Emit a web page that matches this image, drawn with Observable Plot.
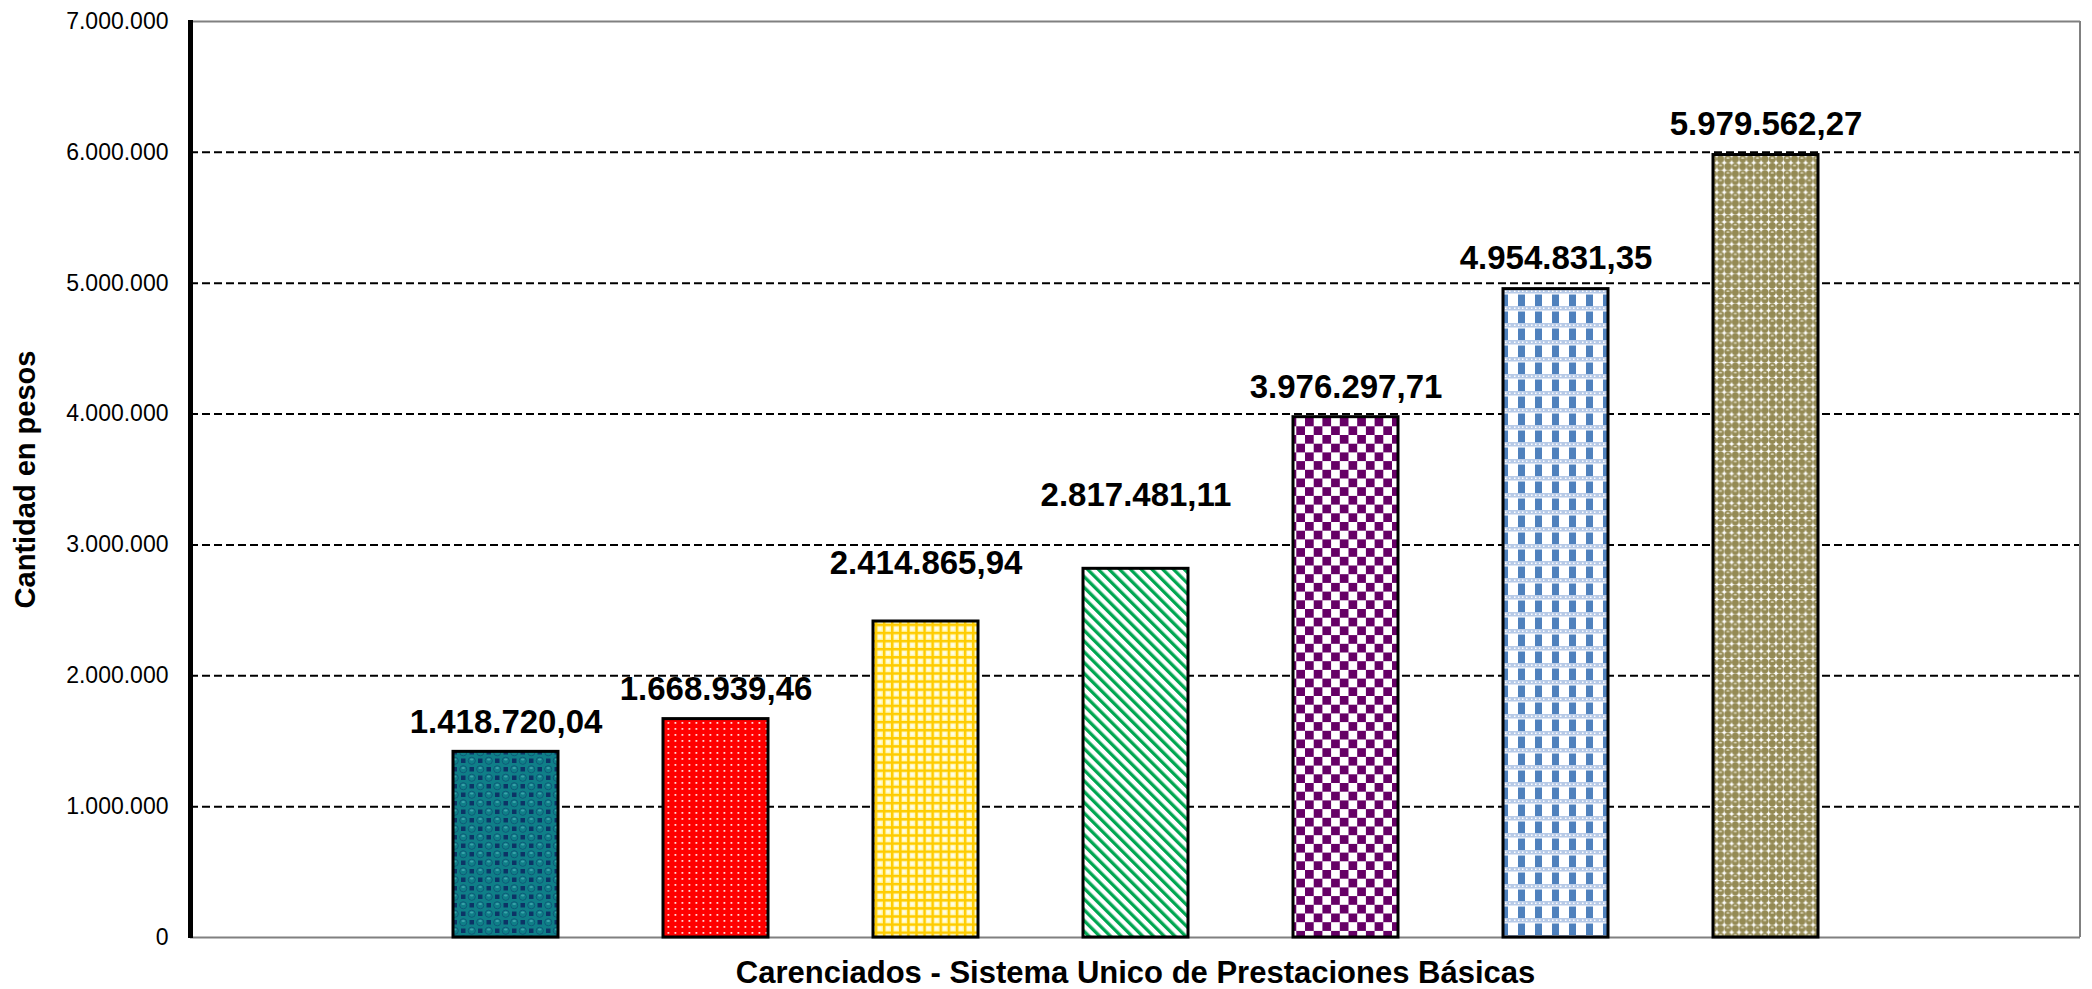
<!DOCTYPE html>
<html>
<head>
<meta charset="utf-8">
<script src="https://cdn.jsdelivr.net/npm/d3@7"></script>
<script src="https://cdn.jsdelivr.net/npm/@observablehq/plot@0.6"></script>
<style>
html, body { margin: 0; padding: 0; background: #fff; }
svg { display: block; }
</style>
</head>
<body>
<div id="chart"></div>
<script>
// ---- data ----
const series = ["Serie 1", "Serie 2", "Serie 3", "Serie 4", "Serie 5", "Serie 6", "Serie 7"];
const values = [1418720.04, 1668939.46, 2414865.94, 2817481.11, 3976297.71, 4954831.35, 5979562.27];
// where each value label sits (in pesos)
const labelAt = [1645000, 1892000, 2859000, 3378000, 4202000, 5191000, 6215000];
const yTicks = [0, 1000000, 2000000, 3000000, 4000000, 5000000, 6000000, 7000000];
const gridTicks = [1000000, 2000000, 3000000, 4000000, 5000000, 6000000];
const xTitle = "Carenciados - Sistema Unico de Prestaciones Básicas";
const yTitle = "Cantidad en pesos";

// ---- styles ----
const fills = ["url(#p1)", "url(#p2)", "url(#p3)", "url(#p4)", "url(#p5)", "url(#p6)", "url(#p7)"];

const data = series.map((s, i) => ({name: s, value: values[i], label: labelAt[i], fill: fills[i]}));

const loc = d3.formatLocale({decimal: ",", thousands: ".", grouping: [3], currency: ["$", ""]});
const fmtInt = loc.format(",d");
const fmtVal = loc.format(",.2f");

const FONT = "'Liberation Sans', Arial, Helvetica, sans-serif";

const defsMark = () => {
  const g = d3.create("svg:g");
  g.html(`
  <defs>
    <pattern id="p1" width="17" height="17" patternUnits="userSpaceOnUse">
      <rect width="17" height="17" fill="#0f7f88"/>
      <rect x="10.5" y="2" width="4.5" height="4.5" fill="#0c3466"/>
      <rect x="2" y="10.5" width="4.5" height="4.5" fill="#0c3466"/>
      <circle cx="4.25" cy="4.25" r="3.6" fill="none" stroke="#0d5a78" stroke-width="1"/>
      <circle cx="12.75" cy="12.75" r="3.6" fill="none" stroke="#0d5a78" stroke-width="1"/>
      <ellipse cx="4.25" cy="3" rx="1.8" ry="1" fill="#3aa3aa"/>
      <ellipse cx="12.75" cy="11.5" rx="1.8" ry="1" fill="#3aa3aa"/>
    </pattern>
    <pattern id="p2" width="7" height="6" patternUnits="userSpaceOnUse">
      <rect width="7" height="6" fill="#ff0000"/>
      <rect x="2.5" y="2" width="1.8" height="1.8" fill="#ffd6d6"/>
    </pattern>
    <pattern id="p3" width="8.1" height="8.1" patternUnits="userSpaceOnUse">
      <rect width="8.1" height="8.1" fill="#fff6a8"/>
      <rect x="3.2" y="3.2" width="3.6" height="3.6" fill="#fffde6"/>
      <rect x="0" y="0" width="2.4" height="8.1" fill="#ffcc00"/>
      <rect x="0" y="0" width="8.1" height="2.4" fill="#ffcc00"/>
    </pattern>
    <pattern id="p4" width="7.6" height="7.6" patternUnits="userSpaceOnUse" patternTransform="rotate(-45)">
      <rect width="7.6" height="7.6" fill="#ffffff"/>
      <rect x="0" y="0" width="3.3" height="7.6" fill="#00a651"/>
    </pattern>
    <pattern id="p5" width="17.4" height="17.4" patternUnits="userSpaceOnUse">
      <rect width="17.4" height="17.4" fill="#ffffff"/>
      <rect x="0" y="0" width="8.7" height="8.7" fill="#660066"/>
      <rect x="8.7" y="8.7" width="8.7" height="8.7" fill="#660066"/>
    </pattern>
    <pattern id="p6" width="17" height="17" patternUnits="userSpaceOnUse">
      <rect width="17" height="17" fill="#ffffff"/>
      <rect x="0" y="0" width="17" height="4.5" fill="#b7cae7"/>
      <rect x="1" y="1.5" width="1.5" height="1.5" fill="#ffffff"/>
      <rect x="5" y="1.5" width="1.5" height="1.5" fill="#ffffff"/>
      <rect x="9" y="1.5" width="1.5" height="1.5" fill="#ffffff"/>
      <rect x="13" y="1.5" width="1.5" height="1.5" fill="#ffffff"/>
      <rect x="5" y="5.5" width="7" height="11.5" fill="#4f81bd"/>
    </pattern>
    <pattern id="p7" width="14.8" height="14.8" patternUnits="userSpaceOnUse">
      <rect width="14.8" height="14.8" fill="#ffffff"/>
      <circle cx="3.7" cy="3.7" r="3.6" fill="#948a54"/>
      <circle cx="11.1" cy="3.7" r="3.6" fill="#948a54"/>
      <circle cx="3.7" cy="11.1" r="3.6" fill="#948a54"/>
      <circle cx="11.1" cy="11.1" r="3.6" fill="#948a54"/>
      <ellipse cx="3.7" cy="2.6" rx="1.6" ry="0.9" fill="#ddd8be"/>
      <ellipse cx="11.1" cy="10" rx="1.6" ry="0.9" fill="#ddd8be"/>
    </pattern>
  </defs>`);
  return g.node();
};

const borderMark = (index, scales, values, dim) => {
  const g = d3.create("svg:g");
  const x0 = dim.marginLeft, x1 = dim.width - dim.marginRight;
  const y0 = dim.marginTop, y1 = dim.height - dim.marginBottom;
  g.append("line").attr("x1", x1).attr("x2", x1).attr("y1", y0).attr("y2", y1)
    .attr("stroke", "#808080").attr("stroke-width", 2);
  g.append("line").attr("x1", x0 + 0.5).attr("x2", x0 + 0.5).attr("y1", y0 - 1).attr("y2", y1 + 1)
    .attr("stroke", "#000").attr("stroke-width", 5);
  return g.node();
};

const chart = Plot.plot({
  width: 2092,
  height: 989,
  marginLeft: 190,
  marginRight: 12,
  marginTop: 21,
  marginBottom: 52,
  style: {fontFamily: FONT, background: "#fff", color: "#000"},
  x: {domain: series, paddingInner: 0.5, paddingOuter: 1.25, align: 0.5, axis: null},
  y: {domain: [0, 7000000], axis: null},
  color: {type: "identity"},
  marks: [
    defsMark,
    Plot.ruleY(gridTicks, {stroke: "#000", strokeWidth: 2, strokeDasharray: "8,4"}),
    Plot.ruleY([7000000], {stroke: "#808080", strokeWidth: 2}),
    Plot.ruleY([0], {stroke: "#808080", strokeWidth: 2}),
    Plot.barY(data, {x: "name", y: "value", fill: "fill", stroke: "#000", strokeWidth: 3}),
    Plot.axisY({ticks: yTicks, tickFormat: fmtInt, tickSize: 0, tickPadding: 22, fontSize: 23, label: null}),
    borderMark,
    Plot.text(data, {x: "name", y: "label", text: d => fmtVal(d.value), fontSize: 33, fontWeight: "bold", fill: "#000"}),
    Plot.text([xTitle], {frameAnchor: "bottom", lineAnchor: "middle", dy: 36, text: d => d, fontSize: 31, fontWeight: "bold", fill: "#000"}),
    Plot.text([yTitle], {frameAnchor: "left", textAnchor: "middle", lineAnchor: "middle", dx: -165, rotate: -90, text: d => d, fontSize: 29, fontWeight: "bold", fill: "#000"})
  ]
});

document.getElementById("chart").appendChild(chart);
</script>
</body>
</html>
